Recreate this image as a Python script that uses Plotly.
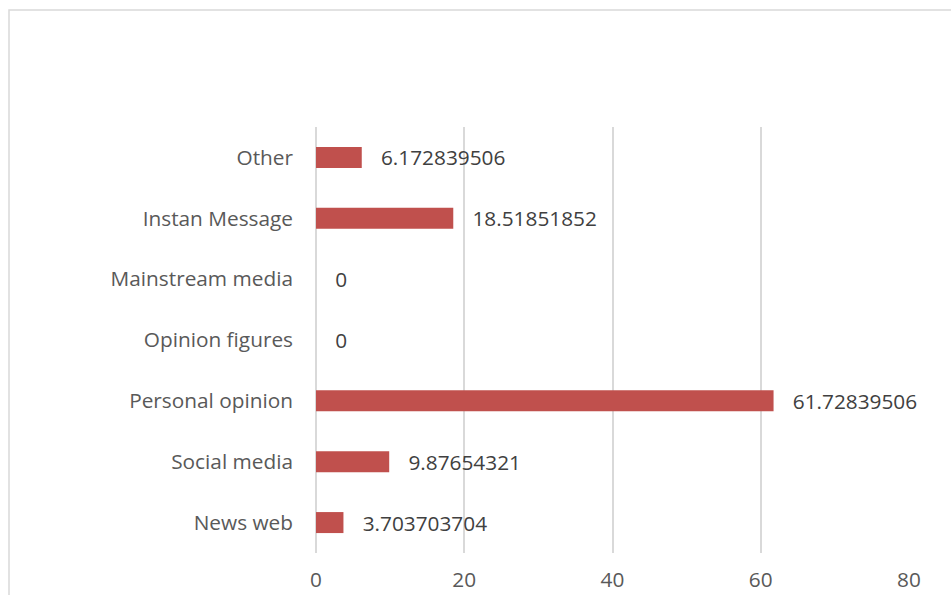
import plotly.graph_objects as go

# Source categories, listed bottom to top as drawn on the y axis
categories = ["News web", "Social media", "Personal opinion", "Opinion figures",
              "Mainstream media", "Instan Message", "Other"]
values = [3.703703704, 9.87654321, 61.72839506, 0, 0, 18.51851852, 6.172839506]
value_labels = ["3.703703704", "9.87654321", "61.72839506", "0", "0",
                "18.51851852", "6.172839506"]
x_ticks = [0, 20, 40, 60, 80]

W, H = 951, 595
L, R, T, B = 316, 42, 127, 42
pw, ph = W - L - R, H - T - B

font_family = "'Open Sans', Lato, sans-serif"
font_size = 20.8
text_color = "#595959"
grid_color = "#d9d9d9"

fig = go.Figure()
fig.add_trace(go.Bar(
    y=categories,
    x=values,
    orientation="h",
    marker=dict(color="#C0504D", line=dict(width=0)),
    width=0.345,
    text=["   " + s for s in value_labels],
    texttemplate="%{text}",
    textposition="outside",
    constraintext="none",
    textfont=dict(family=font_family, size=font_size, color="#404040"),
    cliponaxis=False,
    hoverinfo="skip",
))

# Chart-area border (top and left edges visible, the rest runs off the canvas)
fig.add_shape(type="rect", xref="paper", yref="paper",
              x0=(9 - L) / pw, x1=2.0, y0=-1.0, y1=(H - B - 10) / ph,
              line=dict(color=grid_color, width=1.5), layer="below")

fig.update_layout(
    width=W, height=H,
    margin=dict(l=L, r=R, t=T, b=B, pad=0, autoexpand=False),
    paper_bgcolor="white",
    plot_bgcolor="white",
    showlegend=False,
    bargap=0.655,
    font=dict(family=font_family, size=font_size, color=text_color),
    xaxis=dict(
        range=[0, 80],
        tickvals=x_ticks,
        ticktext=[str(v) for v in x_ticks],
        showgrid=True, gridcolor=grid_color, gridwidth=1.5,
        zeroline=True, zerolinecolor=grid_color, zerolinewidth=1.5,
        showline=False, automargin=False,
        ticks="", ticklabelstandoff=12,
        tickfont=dict(family=font_family, size=font_size, color=text_color),
        fixedrange=True,
    ),
    yaxis=dict(
        categoryorder="array", categoryarray=categories,
        showgrid=False, zeroline=False, showline=False, automargin=False,
        ticks="", ticklabelstandoff=22,
        tickfont=dict(family=font_family, size=font_size, color=text_color),
        fixedrange=True,
    ),
)

fig.write_html("out.html")
